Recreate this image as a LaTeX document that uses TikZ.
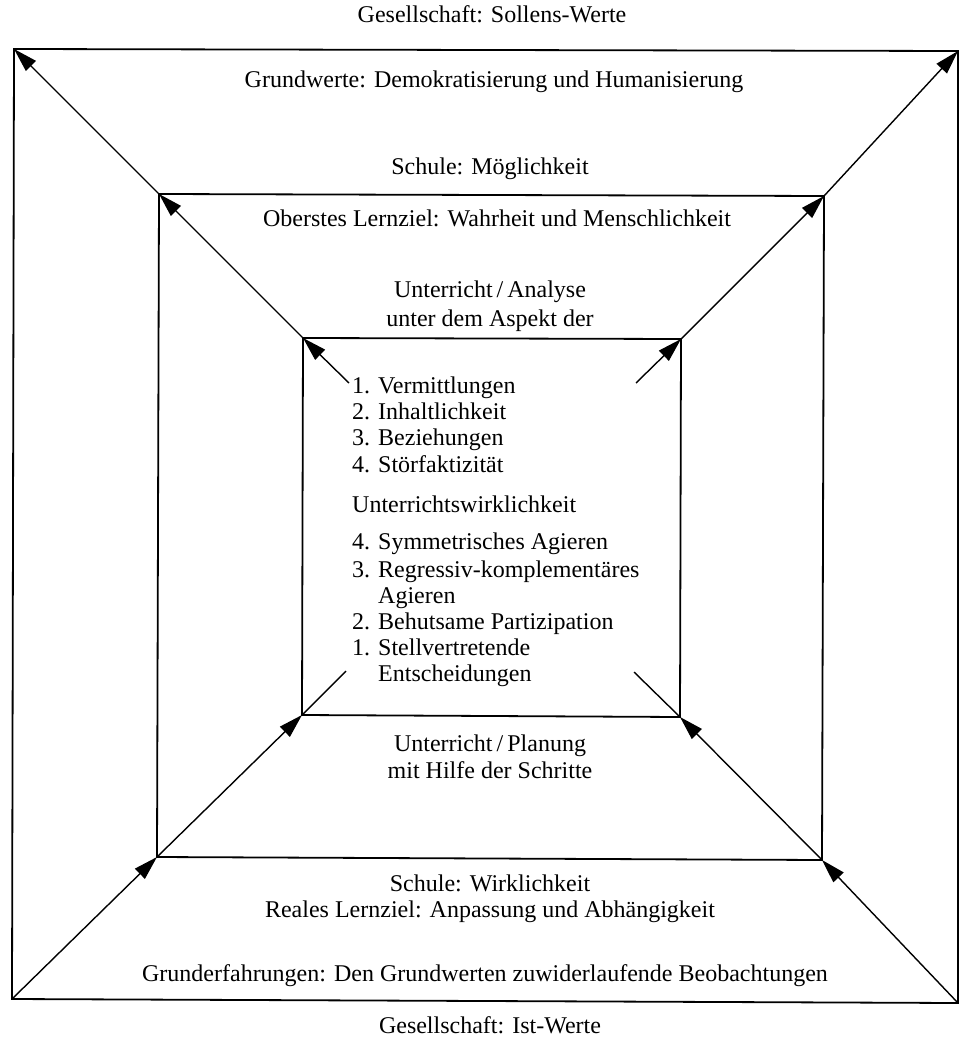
\documentclass[tikz,border=0pt]{standalone}
\usepackage{fontspec}
\setmainfont{Liberation Serif}
\usetikzlibrary{arrows.meta}
\begin{document}
\begin{tikzpicture}[x=1pt,y=-1pt,
  frame/.style={line width=1.8pt},
  flow/.style={line width=1.4pt,-{Triangle[length=24pt,width=14pt]}},
  plain/.style={line width=1.4pt},
  lbl/.style={anchor=base,inner sep=0pt,font=\fontsize{24}{28}\selectfont},
  item/.style={anchor=base west,inner sep=0pt,font=\fontsize{24}{28}\selectfont}]
\useasboundingbox (0,0) rectangle (961,1040);
% corners of the three squares
\coordinate (oTL) at (14,49);   \coordinate (oTR) at (958,51);
\coordinate (oBL) at (12,999);  \coordinate (oBR) at (958,1003);
\coordinate (mTL) at (159,194); \coordinate (mTR) at (824,196);
\coordinate (mBL) at (157,857); \coordinate (mBR) at (822,860);
\coordinate (iTL) at (303,338); \coordinate (iTR) at (681,339);
\coordinate (iBL) at (302,715); \coordinate (iBR) at (680,717);
% loose ends of the inner connectors
\coordinate (sTL) at (349,383); \coordinate (sTR) at (636,383);
\coordinate (eBL) at (346,671); \coordinate (eBR) at (634,672);

\draw[frame] (oTL) -- (oTR) -- (oBR) -- (oBL) -- cycle;
\draw[frame] (mTL) -- (mTR) -- (mBR) -- (mBL) -- cycle;
\draw[frame] (iTL) -- (iTR) -- (iBR) -- (iBL) -- cycle;

% upward: from the centre out to the upper corners
\draw[flow] (sTL) -- (iTL);
\draw[flow] (iTL) -- (mTL);
\draw[flow] (mTL) -- (oTL);
\draw[flow] (sTR) -- (iTR);
\draw[flow] (iTR) -- (mTR);
\draw[flow] (mTR) -- (oTR);
% from the lower corners in towards the centre
\draw[flow] (oBL) -- (mBL);
\draw[flow] (mBL) -- (iBL);
\draw[plain] (iBL) -- (eBL);
\draw[flow] (oBR) -- (mBR);
\draw[flow] (mBR) -- (iBR);
\draw[plain] (iBR) -- (eBR);

% labels between the squares
\node[lbl] (t1) at (492,23) {Gesellschaft: Sollens-Werte};
\node[lbl] (t2) at (494,88) {Grundwerte: Demokratisierung und Humanisierung};
\node[lbl] (t3) at (490,175) {Schule: Möglichkeit};
\node[lbl] (t4) at (497,227) {Oberstes Lernziel: Wahrheit und Menschlichkeit};
\node[lbl] (t5) at (490,298) {Unterricht\,/\,Analyse};
\node[lbl] (t6) at (490,326) {unter dem Aspekt der};
\node[lbl] (b5) at (490,751) {Unterricht\,/\,Planung};
\node[lbl] (b6) at (490,778) {mit Hilfe der Schritte};
\node[lbl] (b3) at (490,891) {Schule: Wirklichkeit};
\node[lbl] (b4) at (490,917) {Reales Lernziel: Anpassung und Abhängigkeit};
\node[lbl] (b2) at (485,981) {Grunderfahrungen: Den Grundwerten zuwiderlaufende Beobachtungen};
\node[lbl] (b1) at (490,1033) {Gesellschaft: Ist-Werte};

% lists inside the inner square
\node[item] (n1) at (352,393) {1.};  \node[item] (a1) at (378,393) {Vermittlungen};
\node[item] (n2) at (352,419) {2.};  \node[item] (a2) at (378,419) {Inhaltlichkeit};
\node[item] (n3) at (352,445) {3.};  \node[item] (a3) at (378,445) {Beziehungen};
\node[item] (n4) at (352,472) {4.};  \node[item] (a4) at (378,472) {Störfaktizität};
\node[item] (uw) at (352,512) {Unterrichtswirklichkeit};
\node[item] (m4) at (352,549) {4.};  \node[item] (c4) at (378,549) {Symmetrisches Agieren};
\node[item] (m3) at (352,577) {3.};  \node[item] (c3) at (378,577) {Regressiv-komplementäres};
\node[item] (c3b) at (378,603) {Agieren};
\node[item] (m2) at (352,629) {2.};  \node[item] (c2) at (378,629) {Behutsame Partizipation};
\node[item] (m1) at (352,655) {1.};  \node[item] (c1) at (378,655) {Stellvertretende};
\node[item] (c1b) at (378,681) {Entscheidungen};
\end{tikzpicture}
\end{document}
